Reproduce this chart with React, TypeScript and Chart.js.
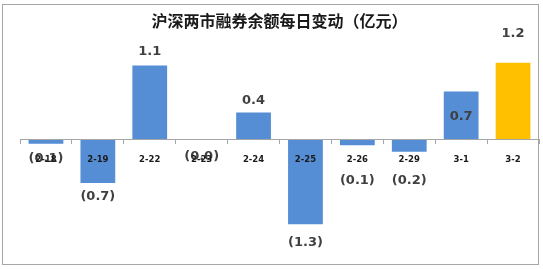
import React, { useEffect, useRef } from "react";
import { Chart, registerables } from "chart.js";

Chart.register(...registerables);

const TITLE = "沪深两市融券余额每日变动（亿元）";
const categories = ["2-18", "2-19", "2-22", "2-23", "2-24", "2-25", "2-26", "2-29", "3-1", "3-2"];
const changes = [-0.07, -0.67, 1.13, -0.004, 0.41, -1.3, -0.09, -0.19, 0.73, 1.17];
const highlightIndex = 9;
// distance of each value label from its bar end, in px (positive = away from zero)
const labelOffsets = [15, 14, 14, 17, 12, 18, 35, 29, -25, 29];

const BLUE = "#558ED5";
const GOLD = "#FFC000";

const fmt = (v: number) => (v < 0 ? `(${Math.abs(v).toFixed(1)})` : v.toFixed(1));

const frame = {
  id: "frame",
  beforeDraw(chart: any) {
    const ctx = chart.ctx;
    ctx.save();
    ctx.fillStyle = "#ffffff";
    ctx.fillRect(0, 0, chart.width, chart.height);
    ctx.strokeStyle = "#a6a6a6";
    ctx.lineWidth = 1;
    ctx.strokeRect(2.5, 4.5, 536, 260);
    ctx.restore();
  },
};

const valueLabels = {
  id: "valueLabels",
  afterDatasetsDraw(chart: any) {
    const meta = chart.getDatasetMeta(0);
    const ctx = chart.ctx;
    ctx.save();
    ctx.font = 'bold 13px "DejaVu Sans"';
    ctx.fillStyle = "#404040";
    ctx.textAlign = "center";
    ctx.textBaseline = "middle";
    meta.data.forEach((bar: any, i: number) => {
      const v = changes[i];
      const off = labelOffsets[i];
      const y = v < 0 ? bar.y + off : bar.y - off;
      ctx.fillText(fmt(v), bar.x, y);
    });
    ctx.restore();
  },
};

export default function App() {
  const ref = useRef<HTMLCanvasElement | null>(null);
  useEffect(() => {
    if (!ref.current) return;
    const chart = new Chart(ref.current, {
      type: "bar",
      data: {
        labels: categories,
        datasets: [
          {
            data: changes,
            backgroundColor: changes.map((_, i) => (i === highlightIndex ? GOLD : BLUE)),
            barPercentage: 0.67,
            categoryPercentage: 1,
            borderWidth: 0,
          },
        ],
      },
      options: {
        responsive: false,
        animation: false,
        layout: { padding: { left: 20, right: 4, top: 0, bottom: 12 } },
        plugins: {
          legend: { display: false },
          tooltip: { enabled: false },
          title: {
            display: true,
            text: TITLE,
            fullSize: false,
            color: "#1a1a1a",
            font: { family: '"Noto Sans CJK SC"', size: 16, weight: "bold", lineHeight: 1.2 },
            padding: { top: 11, bottom: 11 },
          },
        },
        scales: {
          x: {
            position: { y: 0 } as any,
            grid: {
              display: true,
              drawOnChartArea: false,
              drawTicks: true,
              tickLength: 4,
              color: "#a6a6a6",
            },
            border: { display: true, color: "#a6a6a6", z: 1 },
            ticks: {
              z: 1,
              color: "#1a1a1a",
              font: { family: '"DejaVu Sans"', size: 8.5, weight: "bold" },
              padding: 11,
              maxRotation: 0,
              autoSkip: false,
            },
          },
          y: { display: false, min: -1.8, max: 1.5 },
        },
      },
      plugins: [frame, valueLabels],
    });
    return () => chart.destroy();
  }, []);
  return (
    <div style={{ position: "fixed", left: 0, top: 0, width: 543, height: 269 }}>
      <canvas ref={ref} width={543} height={269} style={{ display: "block" }} />
    </div>
  );
}
